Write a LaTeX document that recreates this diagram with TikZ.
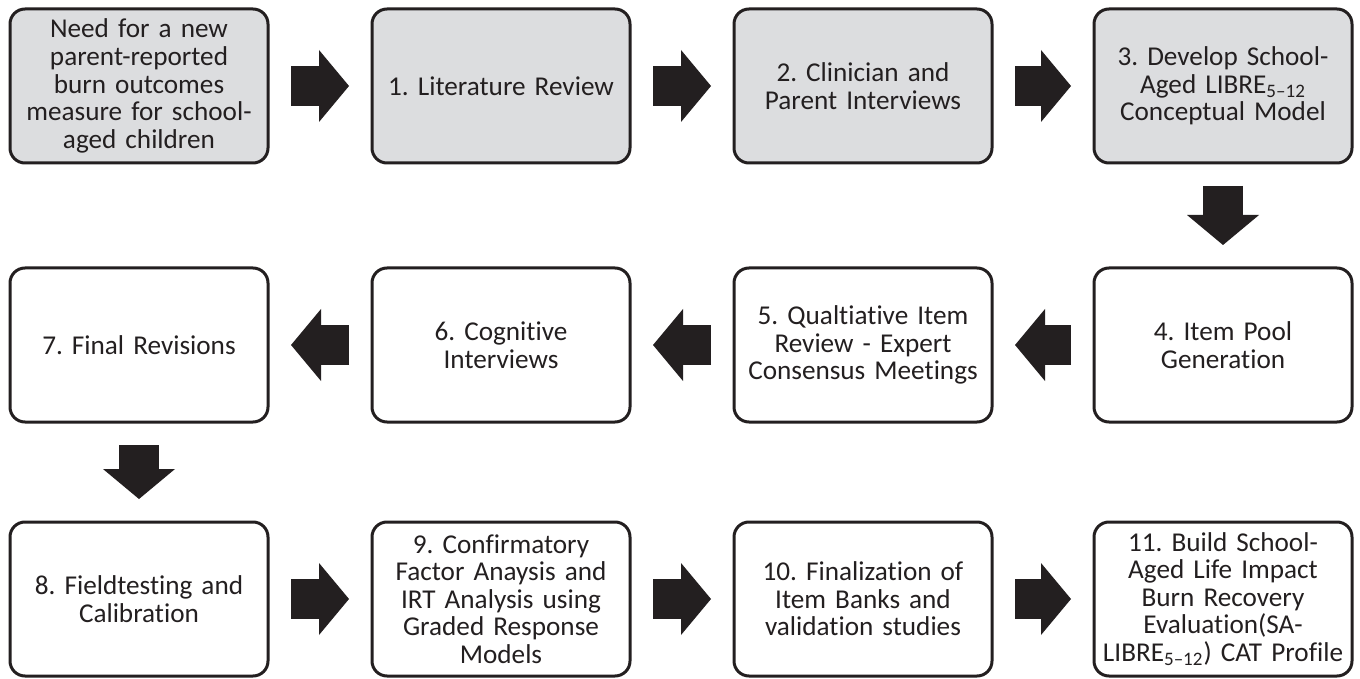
\documentclass[tikz,border=0pt]{standalone}
\usepackage{fontspec}
\setmainfont{Carlito}[Ligatures={TeX,NoCommon}]
\usepackage{xcolor}
\definecolor{ink}{HTML}{231F20}
\definecolor{shade}{HTML}{DCDDDF}
\usetikzlibrary{arrows.meta,positioning}
\frenchspacing
\tikzset{
  box/.style={draw=ink,line width=1.5pt,rounded corners=7.5pt,minimum width=129pt,minimum height=77pt,
    inner sep=1pt,text width=127pt,align=center,text=ink,fill=white,font=\fontsize{13.6}{13.8}\selectfont},
  sbox/.style={box,fill=shade},
  blk/.style={draw=ink,line width=20pt,-{Triangle[length=15pt,width=36pt,line width=0pt]},
    shorten <=10.75pt,shorten >=10.75pt},
}
\begin{document}
\begin{tikzpicture}[x=0.5pt,y=-0.5pt]
\useasboundingbox (0,0) rectangle (1360,679);
% top row
\node[sbox] (need) at (139,86) {Need for a new\\parent-reported\\burn outcomes\\measure for school-\\aged children};
\node[sbox] (lit) at (501,86) {1. Literature Review};
\node[sbox] (intv) at (863,86) {2. Clinician and\\Parent Interviews};
\node[sbox] (model) at (1223,86) {3. Develop School-\\Aged LIBRE\textsubscript{5--12}\\Conceptual Model};
% middle row, right to left
\node[box] (pool) at (1223,345) {4. Item Pool\\Generation};
\node[box] (qual) at (863,345) {5. Qualtiative Item\\Review - Expert\\Consensus Meetings};
\node[box] (cog) at (501,345) {6. Cognitive\\Interviews};
\node[box] (final) at (139,345) {7. Final Revisions};
% bottom row
\node[box] (field) at (139,599) {8. Fieldtesting and\\Calibration};
\node[box] (cfa) at (501,599) {9. Confirmatory\\Factor Anaysis and\\IRT Analysis using\\Graded Response\\Models};
\node[box] (bank) at (863,599) {10. Finalization of\\Item Banks and\\validation studies};
\node[box] (cat) at (1223,599) {11. Build School-\\Aged Life Impact\\Burn Recovery\\Evaluation(SA-\\LIBRE\textsubscript{5--12}) CAT Profile};
% block arrows
\foreach \a/\b in {need/lit,lit/intv,intv/model,model/pool,pool/qual,qual/cog,cog/final,
  final/field,field/cfa,cfa/bank,bank/cat}
  \draw[blk] (\a) -- (\b);
\end{tikzpicture}
\end{document}
